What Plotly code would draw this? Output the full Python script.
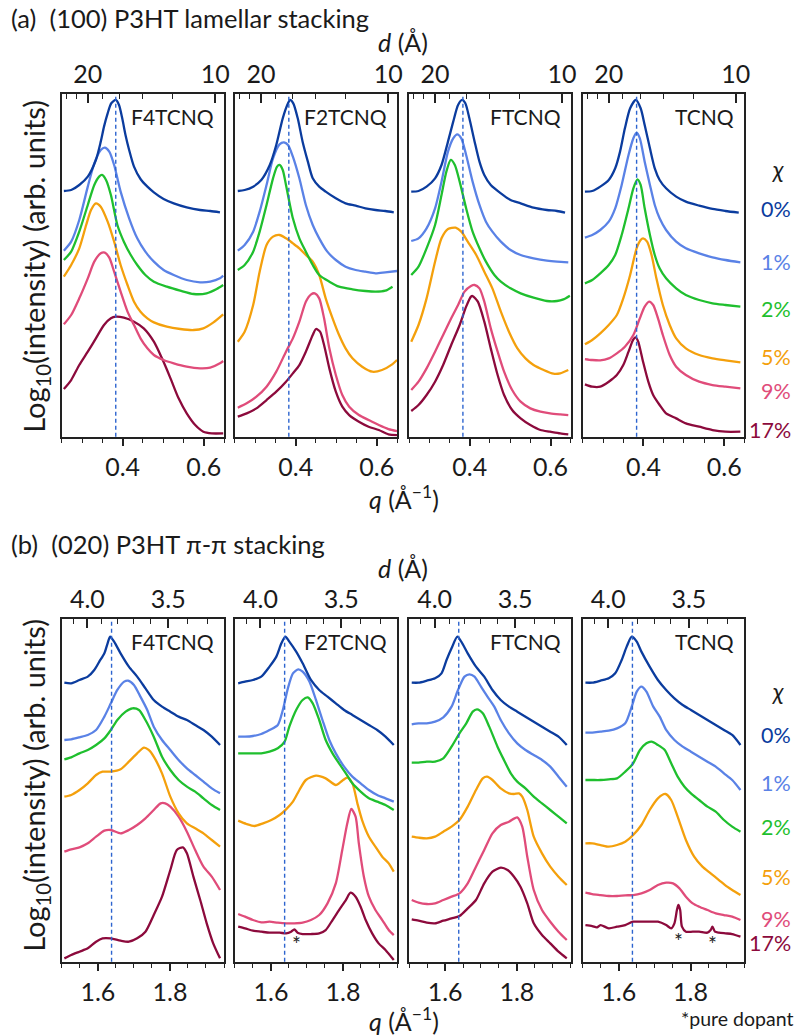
import math
import plotly.graph_objects as go

# ---------------- categories / labels ----------------
DOPANTS = ["F4TCNQ", "F2TCNQ", "FTCNQ", "TCNQ"]
CHI_LABELS = ["0%", "1%", "2%", "5%", "9%", "17%"]
COLORS = ["#0b3c9e", "#5a82e6", "#1fbf2e", "#f4a00c", "#e04c7a", "#8c0a3c"]

# q-axis (bottom) ticks
A_Q_RANGE = [0.25, 0.65]
B_Q_RANGE = [1.5, 1.95]
A_Q_MAJOR = [0.4, 0.6]
B_Q_MAJOR = [1.6, 1.8]
A_Q_MINOR = [0.25, 0.30, 0.35, 0.45, 0.50, 0.55, 0.65]
B_Q_MINOR = [1.50, 1.55, 1.65, 1.70, 1.75, 1.85, 1.90, 1.95]
# d-axis (top) ticks, in Angstrom
A_D_MAJOR = [20, 10]
A_D_MAJOR_TEXT = ["20", "10"]
A_D_MINOR = [24, 22, 18, 16, 14, 12]
B_D_MAJOR = [4.0, 3.5]
B_D_MAJOR_TEXT = ["4.0", "3.5"]
B_D_MINOR = [4.1, 3.9, 3.8, 3.7, 3.6, 3.4, 3.3]
# reference peak position (dashed line)
A_REF_Q = 0.383
B_REF_Q = 1.638
# pure-dopant marks (q, log intensity)
STAR_F2TCNQ_Q = [1.670]
STAR_F2TCNQ_Y = [0.55]
STAR_TCNQ_Q = [1.765, 1.861]
STAR_TCNQ_Y = [0.65, 0.55]

# ---------------- (a) (100) lamellar: F4TCNQ ----------------
A_F4TCNQ_0_Q = [0.255,0.273,0.293,0.314,0.334,0.346,0.354,0.363,0.372,0.383,0.391,0.399,0.407,0.416,0.428,0.444,0.461,0.477,0.501,0.526,0.558,0.591,0.616,0.640]
A_F4TCNQ_0_Y = [7.37,7.40,7.55,7.80,8.30,8.85,9.30,9.70,10.00,10.10,9.95,9.55,9.05,8.60,8.10,7.73,7.50,7.33,7.13,7.00,6.88,6.80,6.77,6.73]
A_F4TCNQ_1_Q = [0.255,0.273,0.293,0.314,0.330,0.346,0.356,0.367,0.379,0.395,0.416,0.436,0.456,0.477,0.501,0.526,0.558,0.591,0.616,0.640,0.648]
A_F4TCNQ_1_Y = [5.58,5.85,6.50,7.50,8.20,8.60,8.67,8.55,8.15,7.35,6.55,5.95,5.55,5.25,5.00,4.85,4.70,4.63,4.65,4.75,4.83]
A_F4TCNQ_2_Q = [0.255,0.273,0.293,0.314,0.330,0.342,0.349,0.359,0.371,0.387,0.403,0.420,0.436,0.456,0.477,0.509,0.542,0.575,0.607,0.632,0.648]
A_F4TCNQ_2_Y = [5.30,5.55,6.15,6.95,7.55,7.80,7.85,7.70,7.25,6.35,5.85,5.45,5.15,4.85,4.65,4.50,4.38,4.28,4.30,4.43,4.55]
A_F4TCNQ_5_Q = [0.255,0.273,0.293,0.310,0.322,0.334,0.346,0.363,0.379,0.395,0.412,0.428,0.444,0.461,0.477,0.509,0.542,0.575,0.599,0.624,0.648]
A_F4TCNQ_5_Y = [4.80,5.15,5.65,6.35,6.80,7.00,6.90,6.45,5.85,5.15,4.55,4.05,3.75,3.55,3.43,3.30,3.23,3.20,3.25,3.43,3.67]
A_F4TCNQ_9_Q = [0.255,0.273,0.293,0.314,0.330,0.346,0.356,0.367,0.379,0.395,0.412,0.428,0.444,0.461,0.477,0.501,0.526,0.558,0.591,0.616,0.640,0.648]
A_F4TCNQ_9_Y = [3.37,3.65,4.15,4.75,5.25,5.50,5.52,5.37,4.95,4.35,3.75,3.35,2.95,2.65,2.45,2.30,2.20,2.10,2.05,2.07,2.20,2.27]
A_F4TCNQ_17_Q = [0.255,0.273,0.293,0.314,0.334,0.354,0.371,0.383,0.403,0.428,0.452,0.477,0.497,0.518,0.538,0.558,0.579,0.599,0.620,0.648]
A_F4TCNQ_17_Y = [1.43,1.70,2.15,2.55,2.95,3.35,3.55,3.60,3.57,3.45,3.25,2.85,2.35,1.75,1.15,0.70,0.35,0.15,0.10,0.10]

# ---------------- (a) F2TCNQ ----------------
A_F2TCNQ_0_Q = [0.257,0.274,0.295,0.315,0.336,0.352,0.368,0.381,0.386,0.394,0.405,0.417,0.430,0.442,0.458,0.474,0.499,0.523,0.548,0.572,0.597,0.621,0.642]
A_F2TCNQ_0_Y = [7.37,7.40,7.50,7.70,8.15,8.75,9.55,10.00,10.10,10.00,9.55,8.85,8.25,7.75,7.50,7.35,7.15,7.00,6.93,6.85,6.80,6.77,6.73]
A_F2TCNQ_1_Q = [0.257,0.274,0.295,0.311,0.328,0.344,0.360,0.371,0.381,0.393,0.409,0.425,0.442,0.458,0.478,0.499,0.523,0.548,0.572,0.597,0.621,0.650]
A_F2TCNQ_1_Y = [5.58,5.75,6.15,6.75,7.55,8.35,8.77,8.83,8.75,8.40,7.75,6.95,6.35,5.95,5.55,5.30,5.10,5.00,4.95,4.90,4.93,4.97]
A_F2TCNQ_2_Q = [0.257,0.274,0.295,0.311,0.328,0.344,0.354,0.360,0.368,0.376,0.393,0.409,0.425,0.442,0.458,0.483,0.507,0.540,0.572,0.597,0.621,0.639]
A_F2TCNQ_2_Y = [5.00,5.15,5.55,6.15,6.95,7.75,8.10,8.15,8.00,7.55,6.55,5.95,5.55,5.15,4.85,4.65,4.50,4.42,4.37,4.35,4.38,4.50]
A_F2TCNQ_5_Q = [0.257,0.274,0.295,0.311,0.328,0.344,0.360,0.376,0.393,0.409,0.425,0.442,0.458,0.474,0.491,0.507,0.523,0.540,0.564,0.589,0.613,0.638,0.650]
A_F2TCNQ_5_Y = [2.85,3.15,3.95,4.95,5.75,6.00,6.05,5.95,5.80,5.65,5.45,5.25,4.85,4.15,3.55,3.05,2.65,2.35,2.10,1.95,2.00,2.17,2.30]
A_F2TCNQ_9_Q = [0.257,0.279,0.303,0.328,0.352,0.376,0.393,0.409,0.425,0.438,0.447,0.458,0.470,0.483,0.499,0.515,0.532,0.556,0.580,0.605,0.629,0.650]
A_F2TCNQ_9_Y = [0.87,1.00,1.20,1.50,1.95,2.55,2.95,3.45,4.05,4.27,4.30,4.15,3.55,2.65,1.85,1.25,0.90,0.65,0.50,0.35,0.23,0.17]
A_F2TCNQ_17_Q = [0.257,0.279,0.303,0.328,0.352,0.376,0.393,0.409,0.425,0.442,0.450,0.460,0.470,0.483,0.499,0.515,0.532,0.556,0.580,0.605,0.629,0.650]
A_F2TCNQ_17_Y = [0.60,0.70,0.85,1.10,1.35,1.65,1.90,2.15,2.55,3.05,3.23,3.15,2.75,2.05,1.35,0.90,0.65,0.45,0.30,0.20,0.07,0.05]

# ---------------- (a) FTCNQ ----------------
A_FTCNQ_0_Q = [0.255,0.273,0.293,0.314,0.330,0.346,0.359,0.371,0.381,0.389,0.399,0.412,0.424,0.436,0.452,0.477,0.501,0.526,0.558,0.591,0.616,0.636]
A_FTCNQ_0_Y = [7.35,7.37,7.50,7.75,8.15,8.85,9.45,9.95,10.10,10.00,9.55,8.85,8.25,7.85,7.55,7.30,7.10,7.00,6.87,6.80,6.77,6.72]
A_FTCNQ_1_Q = [0.255,0.273,0.293,0.314,0.330,0.346,0.359,0.369,0.379,0.391,0.407,0.424,0.440,0.456,0.477,0.501,0.526,0.558,0.591,0.616,0.644]
A_FTCNQ_1_Y = [5.87,5.95,6.25,6.85,7.65,8.55,8.95,9.07,8.95,8.45,7.65,6.95,6.45,6.15,5.85,5.60,5.45,5.35,5.28,5.25,5.23]
A_FTCNQ_2_Q = [0.255,0.273,0.293,0.314,0.330,0.342,0.353,0.363,0.375,0.391,0.407,0.424,0.440,0.461,0.477,0.501,0.526,0.558,0.591,0.616,0.632,0.648]
A_FTCNQ_2_Y = [4.85,5.10,5.65,6.35,7.25,7.95,8.30,8.15,7.65,6.85,6.15,5.65,5.25,4.85,4.65,4.45,4.30,4.17,4.07,4.07,4.12,4.23]
A_FTCNQ_5_Q = [0.255,0.273,0.293,0.314,0.330,0.346,0.365,0.379,0.395,0.416,0.436,0.456,0.477,0.497,0.518,0.538,0.558,0.583,0.607,0.624,0.644]
A_FTCNQ_5_Y = [2.85,3.35,4.15,5.25,5.95,6.23,6.27,6.15,5.85,5.45,4.95,4.45,3.75,3.15,2.65,2.35,2.15,2.00,1.89,1.90,2.00]
A_FTCNQ_9_Q = [0.255,0.273,0.293,0.314,0.334,0.354,0.371,0.387,0.403,0.412,0.424,0.436,0.452,0.469,0.485,0.505,0.526,0.550,0.575,0.599,0.624,0.644]
A_FTCNQ_9_Y = [1.40,1.65,2.05,2.55,3.05,3.55,3.95,4.35,4.52,4.55,4.45,4.05,3.25,2.55,1.95,1.40,1.05,0.85,0.75,0.70,0.67,0.65]
A_FTCNQ_17_Q = [0.255,0.273,0.293,0.314,0.334,0.354,0.375,0.391,0.403,0.407,0.420,0.436,0.452,0.469,0.485,0.505,0.526,0.550,0.575,0.599,0.624,0.644]
A_FTCNQ_17_Y = [0.77,0.95,1.25,1.65,2.15,2.75,3.35,3.90,4.20,4.22,4.05,3.45,2.65,1.85,1.25,0.80,0.55,0.35,0.20,0.15,0.10,0.07]

# ---------------- (a) TCNQ ----------------
A_TCNQ_0_Q = [0.255,0.273,0.293,0.314,0.330,0.342,0.354,0.367,0.381,0.393,0.403,0.416,0.428,0.440,0.456,0.481,0.505,0.538,0.571,0.603,0.636]
A_TCNQ_0_Y = [7.35,7.37,7.50,7.70,8.05,8.55,9.25,9.85,10.10,9.85,9.35,8.65,8.05,7.70,7.45,7.20,7.05,6.93,6.83,6.77,6.72]
A_TCNQ_1_Q = [0.255,0.273,0.293,0.314,0.330,0.346,0.363,0.375,0.383,0.391,0.403,0.416,0.428,0.440,0.456,0.481,0.505,0.538,0.571,0.603,0.640]
A_TCNQ_1_Y = [5.97,6.05,6.20,6.45,6.85,7.55,8.45,8.95,9.12,8.95,8.25,7.55,6.95,6.55,6.20,5.85,5.65,5.50,5.38,5.30,5.23]
A_TCNQ_2_Q = [0.255,0.273,0.293,0.314,0.330,0.346,0.363,0.375,0.385,0.393,0.403,0.416,0.428,0.440,0.456,0.481,0.505,0.538,0.571,0.603,0.640]
A_TCNQ_2_Y = [4.60,4.70,4.90,5.15,5.45,6.05,6.85,7.45,7.72,7.55,6.85,6.05,5.45,5.05,4.75,4.45,4.25,4.10,4.00,3.95,3.90]
A_TCNQ_5_Q = [0.255,0.273,0.293,0.314,0.334,0.350,0.367,0.383,0.393,0.399,0.409,0.420,0.432,0.448,0.465,0.481,0.505,0.538,0.571,0.603,0.640]
A_TCNQ_5_Y = [2.77,2.90,3.10,3.35,3.65,4.15,4.85,5.65,5.90,5.95,5.85,5.45,4.75,3.95,3.35,2.95,2.65,2.45,2.35,2.29,2.23]
A_TCNQ_9_Q = [0.255,0.273,0.293,0.314,0.334,0.354,0.375,0.391,0.403,0.414,0.424,0.436,0.448,0.465,0.481,0.505,0.538,0.571,0.603,0.640]
A_TCNQ_9_Y = [2.33,2.30,2.29,2.35,2.50,2.70,3.05,3.55,3.90,4.05,3.95,3.55,3.05,2.45,2.10,1.85,1.65,1.55,1.50,1.45]
A_TCNQ_17_Q = [0.255,0.273,0.293,0.314,0.334,0.350,0.363,0.375,0.381,0.387,0.399,0.412,0.424,0.440,0.456,0.481,0.505,0.538,0.571,0.603,0.640]
A_TCNQ_17_Y = [1.57,1.50,1.50,1.65,1.85,2.15,2.55,2.92,2.98,2.85,2.25,1.65,1.25,0.95,0.70,0.55,0.40,0.30,0.20,0.15,0.15]

# ---------------- (b) (020) pi-pi: F4TCNQ ----------------
B_F4TCNQ_0_Q = [1.507,1.526,1.549,1.572,1.590,1.604,1.618,1.627,1.634,1.645,1.663,1.686,1.709,1.732,1.755,1.778,1.801,1.824,1.847,1.870,1.893,1.916,1.939]
B_F4TCNQ_0_Y = [8.37,8.35,8.45,8.55,8.75,9.00,9.25,9.55,9.75,9.60,9.25,8.85,8.55,8.20,7.85,7.65,7.50,7.35,7.25,7.10,6.95,6.75,6.50]
B_F4TCNQ_1_Q = [1.507,1.526,1.549,1.572,1.595,1.618,1.636,1.654,1.673,1.684,1.700,1.718,1.737,1.755,1.778,1.801,1.824,1.847,1.870,1.893,1.916,1.939]
B_F4TCNQ_1_Y = [6.65,6.67,6.73,6.80,6.95,7.35,7.75,8.15,8.40,8.43,8.30,7.95,7.55,7.05,6.65,6.35,6.05,5.80,5.60,5.40,5.20,5.05]
B_F4TCNQ_2_Q = [1.507,1.526,1.549,1.572,1.595,1.618,1.636,1.654,1.677,1.696,1.714,1.732,1.755,1.778,1.801,1.824,1.847,1.870,1.893,1.916,1.939]
B_F4TCNQ_2_Y = [6.07,6.13,6.25,6.35,6.50,6.70,6.95,7.25,7.50,7.60,7.55,7.25,6.75,6.15,5.75,5.45,5.25,5.10,4.90,4.70,4.55]
B_F4TCNQ_5_Q = [1.507,1.526,1.549,1.572,1.595,1.613,1.636,1.663,1.686,1.709,1.728,1.741,1.755,1.778,1.801,1.824,1.847,1.870,1.893,1.916,1.939]
B_F4TCNQ_5_Y = [4.95,5.00,5.15,5.35,5.60,5.70,5.70,5.77,6.00,6.25,6.42,6.35,6.15,5.65,4.95,4.45,4.15,4.00,3.85,3.65,3.45]
B_F4TCNQ_9_Q = [1.507,1.526,1.549,1.572,1.595,1.618,1.636,1.663,1.686,1.709,1.732,1.755,1.774,1.787,1.801,1.824,1.847,1.870,1.893,1.916,1.939]
B_F4TCNQ_9_Y = [3.30,3.37,3.43,3.55,3.75,3.93,3.95,3.85,3.95,4.10,4.30,4.55,4.75,4.75,4.65,4.35,3.90,3.35,2.85,2.55,2.15]
B_F4TCNQ_17_Q = [1.507,1.526,1.549,1.572,1.595,1.613,1.636,1.663,1.686,1.709,1.732,1.755,1.778,1.801,1.819,1.836,1.847,1.865,1.884,1.902,1.920,1.939]
B_F4TCNQ_17_Y = [0.10,0.20,0.30,0.40,0.60,0.70,0.70,0.63,0.60,0.70,0.90,1.40,1.95,2.75,3.35,3.43,3.25,2.55,1.85,1.15,0.55,0.10]

# ---------------- (b) F2TCNQ ----------------
B_F2TCNQ_0_Q = [1.509,1.528,1.550,1.573,1.596,1.615,1.629,1.640,1.651,1.670,1.688,1.711,1.734,1.757,1.780,1.803,1.826,1.849,1.872,1.895,1.918,1.941]
B_F2TCNQ_0_Y = [8.35,8.40,8.45,8.55,8.85,9.15,9.55,9.75,9.60,9.30,8.95,8.45,8.15,7.95,7.75,7.55,7.40,7.25,7.10,6.95,6.75,6.50]
B_F2TCNQ_1_Q = [1.509,1.528,1.550,1.573,1.596,1.619,1.633,1.647,1.661,1.676,1.688,1.707,1.725,1.743,1.762,1.780,1.803,1.826,1.849,1.872,1.895,1.918,1.941]
B_F2TCNQ_1_Y = [6.75,6.75,6.77,6.83,6.95,7.10,7.55,8.20,8.65,8.77,8.70,8.40,7.85,7.25,6.65,6.25,5.85,5.55,5.35,5.15,5.00,4.90,4.80]
B_F2TCNQ_2_Q = [1.509,1.528,1.550,1.573,1.596,1.619,1.638,1.651,1.670,1.688,1.702,1.716,1.734,1.752,1.771,1.789,1.808,1.826,1.849,1.872,1.895,1.918,1.941]
B_F2TCNQ_2_Y = [6.25,6.25,6.25,6.25,6.30,6.40,6.60,7.05,7.55,7.85,7.93,7.75,7.25,6.65,6.25,5.95,5.65,5.35,5.10,4.90,4.80,4.70,4.55]
B_F2TCNQ_5_Q = [1.509,1.532,1.555,1.578,1.601,1.624,1.642,1.661,1.679,1.697,1.725,1.752,1.780,1.798,1.812,1.826,1.840,1.853,1.872,1.890,1.909,1.927,1.941]
B_F2TCNQ_5_Y = [4.23,4.13,4.07,4.15,4.25,4.40,4.57,4.80,5.15,5.45,5.58,5.50,5.30,5.43,5.52,5.35,4.75,4.25,3.75,3.45,3.15,2.95,2.70]
B_F2TCNQ_9_Q = [1.509,1.528,1.550,1.573,1.596,1.619,1.642,1.665,1.688,1.711,1.734,1.757,1.780,1.798,1.812,1.823,1.835,1.844,1.858,1.872,1.890,1.909,1.927,1.941]
B_F2TCNQ_9_Y = [1.43,1.35,1.25,1.18,1.20,1.17,1.15,1.15,1.17,1.25,1.40,1.75,2.35,3.35,4.15,4.58,4.35,3.55,2.55,1.95,1.55,1.25,0.95,0.80]
B_F2TCNQ_17_Q = [1.509,1.528,1.550,1.573,1.596,1.624,1.642,1.656,1.665,1.674,1.688,1.711,1.734,1.752,1.771,1.789,1.808,1.821,1.835,1.849,1.863,1.881,1.899,1.918,1.941]
B_F2TCNQ_17_Y = [1.05,1.00,0.93,0.90,0.87,0.87,0.85,0.90,0.97,0.87,0.83,0.83,0.85,0.95,1.25,1.55,1.85,2.07,1.95,1.65,1.25,0.85,0.55,0.35,0.05]

# ---------------- (b) FTCNQ ----------------
B_FTCNQ_0_Q = [1.507,1.526,1.549,1.572,1.590,1.604,1.618,1.634,1.645,1.663,1.686,1.709,1.732,1.755,1.778,1.801,1.824,1.847,1.870,1.893,1.916,1.939]
B_FTCNQ_0_Y = [8.37,8.37,8.43,8.50,8.65,9.05,9.40,9.75,9.60,9.25,8.85,8.55,8.15,7.85,7.65,7.50,7.35,7.20,7.05,6.90,6.75,6.50]
B_FTCNQ_1_Q = [1.507,1.526,1.549,1.572,1.595,1.618,1.636,1.654,1.668,1.682,1.700,1.718,1.737,1.755,1.778,1.801,1.824,1.847,1.870,1.893,1.916,1.939]
B_FTCNQ_1_Y = [7.12,7.15,7.15,7.20,7.33,7.65,8.15,8.55,8.62,8.55,8.25,7.95,7.65,7.25,6.85,6.55,6.35,6.20,6.05,5.85,5.55,5.25]
B_FTCNQ_2_Q = [1.507,1.526,1.549,1.572,1.595,1.618,1.640,1.659,1.677,1.689,1.705,1.723,1.746,1.764,1.783,1.801,1.824,1.847,1.870,1.893,1.916,1.939]
B_FTCNQ_2_Y = [5.97,5.97,6.00,6.00,6.10,6.45,6.85,7.15,7.50,7.57,7.45,7.05,6.45,6.05,5.65,5.40,5.20,4.95,4.75,4.55,4.35,4.15]
B_FTCNQ_5_Q = [1.507,1.526,1.549,1.572,1.595,1.618,1.640,1.663,1.686,1.705,1.717,1.732,1.755,1.778,1.792,1.806,1.815,1.829,1.847,1.870,1.893,1.916,1.939]
B_FTCNQ_5_Y = [3.75,3.72,3.70,3.75,3.90,4.05,4.25,4.65,5.15,5.50,5.55,5.45,5.20,5.05,5.03,5.05,4.95,4.55,3.75,3.25,2.85,2.55,2.30]
B_FTCNQ_9_Q = [1.507,1.526,1.549,1.572,1.595,1.618,1.640,1.663,1.686,1.709,1.732,1.755,1.778,1.801,1.815,1.829,1.847,1.870,1.893,1.916,1.939]
B_FTCNQ_9_Y = [1.85,1.77,1.73,1.75,1.85,1.95,2.05,2.35,2.85,3.35,3.85,4.10,4.20,4.33,4.05,3.15,2.15,1.55,1.20,0.90,0.65]
B_FTCNQ_17_Q = [1.507,1.526,1.549,1.572,1.595,1.618,1.640,1.663,1.686,1.709,1.732,1.755,1.774,1.792,1.810,1.829,1.847,1.870,1.893,1.916,1.939]
B_FTCNQ_17_Y = [1.27,1.23,1.17,1.15,1.23,1.30,1.37,1.60,1.85,2.35,2.70,2.82,2.75,2.55,2.25,1.75,1.15,0.80,0.55,0.30,0.10]

# ---------------- (b) TCNQ ----------------
B_TCNQ_0_Q = [1.507,1.526,1.549,1.572,1.590,1.608,1.622,1.636,1.650,1.663,1.686,1.709,1.732,1.755,1.778,1.801,1.824,1.847,1.870,1.893,1.916,1.939]
B_TCNQ_0_Y = [8.37,8.37,8.43,8.50,8.65,9.05,9.45,9.75,9.60,9.30,8.85,8.45,8.15,7.90,7.70,7.55,7.40,7.25,7.10,6.95,6.80,6.50]
B_TCNQ_1_Q = [1.507,1.526,1.549,1.572,1.595,1.618,1.636,1.650,1.663,1.677,1.696,1.714,1.732,1.755,1.778,1.801,1.824,1.847,1.870,1.893,1.916,1.939]
B_TCNQ_1_Y = [6.87,6.87,6.90,6.93,7.00,7.15,7.65,8.10,8.25,8.10,7.65,7.35,6.95,6.65,6.45,6.30,6.15,6.00,5.85,5.65,5.45,5.15]
B_TCNQ_2_Q = [1.507,1.526,1.549,1.572,1.595,1.618,1.640,1.659,1.677,1.691,1.709,1.728,1.746,1.764,1.783,1.801,1.824,1.847,1.870,1.893,1.916,1.939]
B_TCNQ_2_Y = [5.45,5.45,5.45,5.47,5.50,5.70,5.95,6.35,6.55,6.60,6.50,6.35,5.95,5.55,5.25,5.05,4.85,4.65,4.50,4.25,4.05,3.90]
B_TCNQ_5_Q = [1.507,1.526,1.549,1.572,1.595,1.618,1.640,1.663,1.686,1.709,1.730,1.746,1.764,1.787,1.810,1.833,1.856,1.879,1.902,1.916,1.939]
B_TCNQ_5_Y = [3.55,3.55,3.50,3.45,3.50,3.60,3.80,4.10,4.55,4.90,5.03,4.85,4.35,3.65,3.15,2.85,2.65,2.45,2.25,2.15,2.00]
B_TCNQ_9_Q = [1.507,1.526,1.549,1.572,1.595,1.618,1.640,1.663,1.686,1.709,1.732,1.751,1.769,1.787,1.806,1.824,1.847,1.870,1.893,1.916,1.939]
B_TCNQ_9_Y = [2.07,2.03,2.00,1.97,1.97,1.99,2.00,2.05,2.15,2.30,2.37,2.35,2.20,1.95,1.75,1.65,1.55,1.45,1.40,1.35,1.25]
B_TCNQ_17_Q = [1.507,1.526,1.539,1.549,1.572,1.595,1.618,1.640,1.663,1.686,1.709,1.732,1.746,1.755,1.762,1.766,1.771,1.776,1.787,1.806,1.824,1.847,1.856,1.861,1.868,1.879,1.897,1.916,1.939]
B_TCNQ_17_Y = [1.10,1.07,1.03,1.10,1.00,1.05,1.10,1.20,1.20,1.20,1.20,1.10,1.00,1.15,1.55,1.70,1.55,1.05,0.90,0.90,0.90,0.87,0.95,1.05,0.90,0.87,0.85,0.83,0.75]

# ---------------- assemble ----------------
ROW_A = [
    [(A_F4TCNQ_0_Q, A_F4TCNQ_0_Y), (A_F4TCNQ_1_Q, A_F4TCNQ_1_Y), (A_F4TCNQ_2_Q, A_F4TCNQ_2_Y),
     (A_F4TCNQ_5_Q, A_F4TCNQ_5_Y), (A_F4TCNQ_9_Q, A_F4TCNQ_9_Y), (A_F4TCNQ_17_Q, A_F4TCNQ_17_Y)],
    [(A_F2TCNQ_0_Q, A_F2TCNQ_0_Y), (A_F2TCNQ_1_Q, A_F2TCNQ_1_Y), (A_F2TCNQ_2_Q, A_F2TCNQ_2_Y),
     (A_F2TCNQ_5_Q, A_F2TCNQ_5_Y), (A_F2TCNQ_9_Q, A_F2TCNQ_9_Y), (A_F2TCNQ_17_Q, A_F2TCNQ_17_Y)],
    [(A_FTCNQ_0_Q, A_FTCNQ_0_Y), (A_FTCNQ_1_Q, A_FTCNQ_1_Y), (A_FTCNQ_2_Q, A_FTCNQ_2_Y),
     (A_FTCNQ_5_Q, A_FTCNQ_5_Y), (A_FTCNQ_9_Q, A_FTCNQ_9_Y), (A_FTCNQ_17_Q, A_FTCNQ_17_Y)],
    [(A_TCNQ_0_Q, A_TCNQ_0_Y), (A_TCNQ_1_Q, A_TCNQ_1_Y), (A_TCNQ_2_Q, A_TCNQ_2_Y),
     (A_TCNQ_5_Q, A_TCNQ_5_Y), (A_TCNQ_9_Q, A_TCNQ_9_Y), (A_TCNQ_17_Q, A_TCNQ_17_Y)],
]
ROW_B = [
    [(B_F4TCNQ_0_Q, B_F4TCNQ_0_Y), (B_F4TCNQ_1_Q, B_F4TCNQ_1_Y), (B_F4TCNQ_2_Q, B_F4TCNQ_2_Y),
     (B_F4TCNQ_5_Q, B_F4TCNQ_5_Y), (B_F4TCNQ_9_Q, B_F4TCNQ_9_Y), (B_F4TCNQ_17_Q, B_F4TCNQ_17_Y)],
    [(B_F2TCNQ_0_Q, B_F2TCNQ_0_Y), (B_F2TCNQ_1_Q, B_F2TCNQ_1_Y), (B_F2TCNQ_2_Q, B_F2TCNQ_2_Y),
     (B_F2TCNQ_5_Q, B_F2TCNQ_5_Y), (B_F2TCNQ_9_Q, B_F2TCNQ_9_Y), (B_F2TCNQ_17_Q, B_F2TCNQ_17_Y)],
    [(B_FTCNQ_0_Q, B_FTCNQ_0_Y), (B_FTCNQ_1_Q, B_FTCNQ_1_Y), (B_FTCNQ_2_Q, B_FTCNQ_2_Y),
     (B_FTCNQ_5_Q, B_FTCNQ_5_Y), (B_FTCNQ_9_Q, B_FTCNQ_9_Y), (B_FTCNQ_17_Q, B_FTCNQ_17_Y)],
    [(B_TCNQ_0_Q, B_TCNQ_0_Y), (B_TCNQ_1_Q, B_TCNQ_1_Y), (B_TCNQ_2_Q, B_TCNQ_2_Y),
     (B_TCNQ_5_Q, B_TCNQ_5_Y), (B_TCNQ_9_Q, B_TCNQ_9_Y), (B_TCNQ_17_Q, B_TCNQ_17_Y)],
]

# ---------------- layout geometry (pixels) ----------------
W, H = 803, 1035
FONT = "Lato"
INK = "#1a1a1a"
AXC = "#222222"
PANEL_X = [(62.3, 225.7), (236.7, 400.0), (412.3, 575.0), (587.3, 750.0)]
ROW_Y = [(94.3, 436.7), (619.3, 961.7)]
Y_RANGE = [0, 10.27]
TICK_FONT = 25


def px(x):
    return x / W


def py(y):
    return 1 - y / H


fig = go.Figure()
layout = dict(
    width=W, height=H, margin=dict(l=0, r=0, t=0, b=0),
    paper_bgcolor="white", plot_bgcolor="white", showlegend=False,
    font=dict(family=FONT, color=INK),
)
shapes = []
annotations = []

rows = [
    dict(data=ROW_A, qr=A_Q_RANGE, qmaj=A_Q_MAJOR, qmin=A_Q_MINOR, dmaj=A_D_MAJOR,
         dtxt=A_D_MAJOR_TEXT, dmin=A_D_MINOR, ref=A_REF_Q),
    dict(data=ROW_B, qr=B_Q_RANGE, qmaj=B_Q_MAJOR, qmin=B_Q_MINOR, dmaj=B_D_MAJOR,
         dtxt=B_D_MAJOR_TEXT, dmin=B_D_MINOR, ref=B_REF_Q),
]

for r, row in enumerate(rows):
    y0p, y1p = ROW_Y[r]
    for c in range(4):
        k = r * 4 + c + 1
        xid = "x" if k == 1 else f"x{k}"
        yid = "y" if k == 1 else f"y{k}"
        tid = f"x{k + 8}"
        xname = "xaxis" if k == 1 else f"xaxis{k}"
        yname = "yaxis" if k == 1 else f"yaxis{k}"
        x0p, x1p = PANEL_X[c]
        dom_x = [px(x0p), px(x1p)]
        layout[xname] = dict(
            domain=dom_x, range=row["qr"], anchor=yid, showgrid=False, zeroline=False,
            showline=True, linecolor=AXC, linewidth=1.5, mirror=False,
            tickmode="array", tickvals=row["qmaj"], ticks="outside", ticklen=8,
            tickwidth=1.5, tickcolor=AXC, tickfont=dict(size=TICK_FONT, family=FONT, color=INK),
            minor=dict(tickmode="array", tickvals=row["qmin"], ticks="outside", ticklen=5,
                       tickwidth=1.3, tickcolor=AXC),
        )
        layout[f"xaxis{k + 8}"] = dict(
            domain=dom_x, range=row["qr"], anchor=yid, overlaying=xid, side="top",
            showgrid=False, zeroline=False, showline=True, linecolor=AXC, linewidth=1.5,
            tickmode="array", tickvals=[2 * math.pi / d for d in row["dmaj"]],
            ticktext=row["dtxt"], ticks="inside", ticklen=9, tickwidth=1.5, tickcolor=AXC,
            tickfont=dict(size=TICK_FONT, family=FONT, color=INK),
            minor=dict(tickmode="array", tickvals=[2 * math.pi / d for d in row["dmin"]],
                       ticks="inside", ticklen=5, tickwidth=1.3, tickcolor=AXC),
        )
        layout[yname] = dict(
            domain=[py(y1p), py(y0p)], range=Y_RANGE, anchor=xid, showgrid=False,
            zeroline=False, showline=True, mirror=True, linecolor=AXC, linewidth=1.5,
            ticks="", showticklabels=False,
        )
        # dummy trace so the top (d) axis is drawn
        fig.add_trace(go.Scatter(x=row["qr"], y=[None, None], xaxis=tid, yaxis=yid,
                                 mode="lines", hoverinfo="skip", showlegend=False))
        # reference dashed line
        shapes.append(dict(type="line", xref=xid, yref=f"{yid} domain", x0=row["ref"],
                           x1=row["ref"], y0=0, y1=1,
                           line=dict(color="#2d64cf", width=1.4, dash="4px,3px")))
        # curves
        for i in range(len(CHI_LABELS) - 1, -1, -1):
            qv, yv = row["data"][c][i]
            fig.add_trace(go.Scatter(
                x=qv, y=yv, xaxis=xid, yaxis=yid, mode="lines",
                line=dict(color=COLORS[i], width=2.3, shape="spline", smoothing=0.7),
                hoverinfo="skip", showlegend=False,
            ))
        # dopant label
        annotations.append(dict(text=DOPANTS[c], xref="paper", yref="paper",
                                x=px(x1p - 8), y=py(y0p + 22.5), xanchor="right",
                                yanchor="middle", showarrow=False,
                                font=dict(size=21, family=FONT, color=INK)))

# pure dopant stars
for sq, sy, k in [(STAR_F2TCNQ_Q, STAR_F2TCNQ_Y, 6), (STAR_TCNQ_Q, STAR_TCNQ_Y, 8)]:
    for a, b in zip(sq, sy):
        annotations.append(dict(text="*", xref=f"x{k}", yref=f"y{k}", x=a, y=b,
                                showarrow=False, font=dict(size=21, family=FONT, color="#222")))

# row titles
annotations.append(dict(text="(a)\u00a0 (100) P3HT lamellar stacking", xref="paper", yref="paper",
                        x=px(9), y=py(18), xanchor="left", yanchor="middle", showarrow=False,
                        font=dict(size=25.5, family=FONT, color=INK)))
annotations.append(dict(text="(b)\u00a0 (020) P3HT \u03c0-\u03c0 stacking", xref="paper", yref="paper",
                        x=px(9), y=py(544), xanchor="left", yanchor="middle", showarrow=False,
                        font=dict(size=25.5, family=FONT, color=INK)))
# d labels
for yy in [42, 568]:
    annotations.append(dict(text="<i>d</i> (Å)", xref="paper", yref="paper", x=px(406), y=py(yy),
                            xanchor="center", yanchor="middle", showarrow=False,
                            font=dict(size=25, family=FONT, color=INK)))
# q labels
for yy in [497, 1019]:
    annotations.append(dict(text="<i>q</i> (Å<sup>\u22121</sup>)", xref="paper", yref="paper",
                            x=px(407), y=py(yy), xanchor="center", yanchor="middle",
                            showarrow=False, font=dict(size=25, family=FONT, color=INK)))
# y titles
for yy in [266, 785]:
    annotations.append(dict(text="Log<sub>10</sub>(intensity) (arb. units)", xref="paper",
                            yref="paper", x=px(35), y=py(yy), xanchor="center", yanchor="middle",
                            textangle=-90, showarrow=False,
                            font=dict(size=29, family=FONT, color=INK)))
# chi labels
CHI_Y_A = [209, 262, 309, 357, 391, 430]
CHI_Y_B = [735, 783, 827, 877, 919, 943]
for chi_y, ys in [(168, CHI_Y_A), (690, CHI_Y_B)]:
    annotations.append(dict(text="<i>\u03c7</i>", xref="paper", yref="paper", x=px(783), y=py(chi_y),
                            xanchor="center", yanchor="middle", showarrow=False,
                            font=dict(size=24, family=FONT, color=INK)))
    for i, lab in enumerate(CHI_LABELS):
        annotations.append(dict(text=lab, xref="paper", yref="paper", x=px(799), y=py(ys[i]),
                                xanchor="right", yanchor="middle", showarrow=False,
                                font=dict(size=21.5, family=FONT, color=COLORS[i])))
annotations.append(dict(text="*pure dopant", xref="paper", yref="paper", x=px(801), y=py(1018),
                        xanchor="right", yanchor="middle", showarrow=False,
                        font=dict(size=19.5, family=FONT, color=INK)))

layout["shapes"] = shapes
layout["annotations"] = annotations
fig.update_layout(**layout)
fig.write_html("out.html")
